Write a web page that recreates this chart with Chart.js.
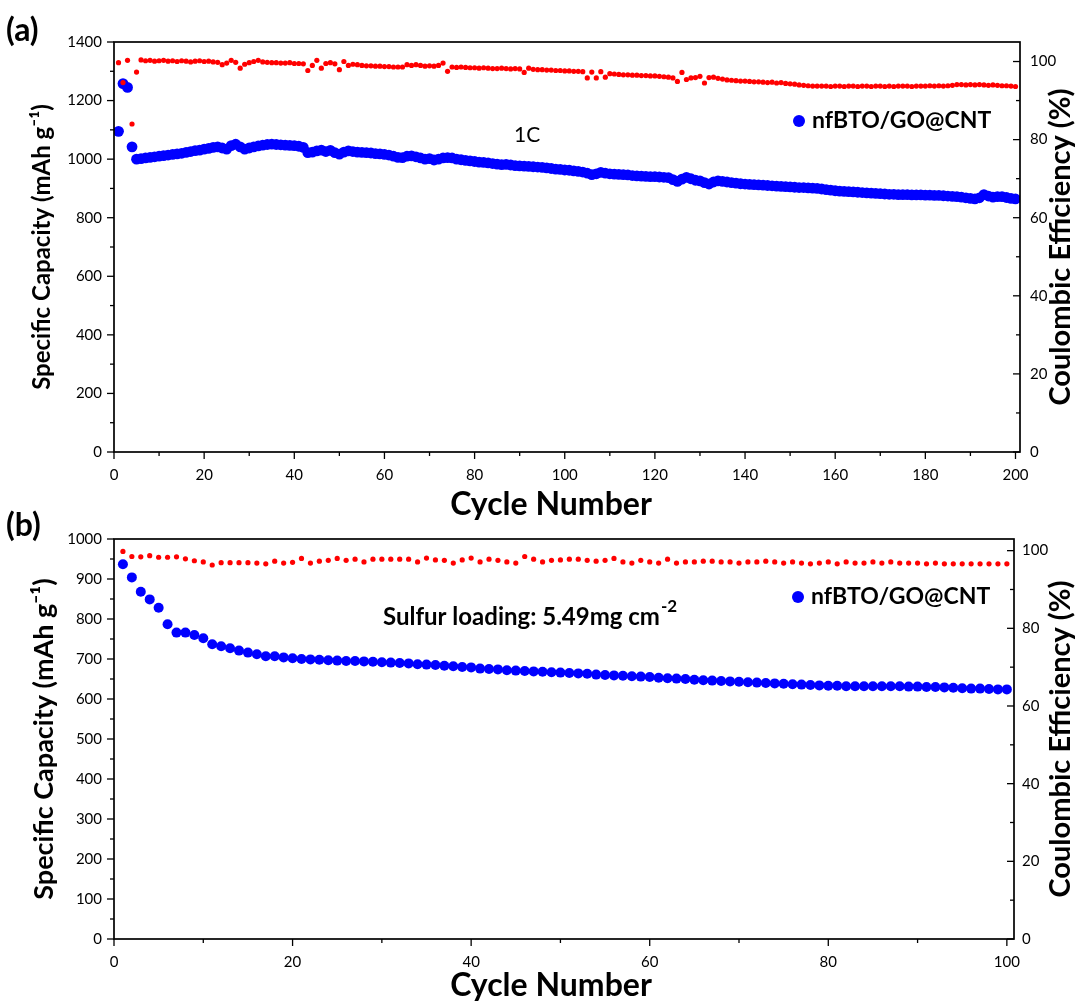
<!DOCTYPE html>
<html>
<head>
<meta charset="utf-8">
<script src="https://cdn.jsdelivr.net/npm/chart.js@4.4.1/dist/chart.umd.min.js"></script>
<style>
  html, body { margin: 0; padding: 0; background: #fff; overflow: hidden; }
  #wrap { position: relative; width: 1081px; height: 1003px; overflow: hidden; }
  canvas { position: absolute; left: 0; }
</style>
</head>
<body>
<div id="wrap">
  <canvas id="chartA" width="1081" height="526" style="top:0"></canvas>
  <canvas id="chartB" width="1081" height="513" style="top:490px"></canvas>
</div>
<script>
// ---- panel (a): 1C, 200 cycles ----
const capacityA = [
  1095, 1258, 1245, 1042, 1000, 1002, 1004, 1006, 1008, 1010,
  1012, 1014, 1016, 1018, 1020, 1023, 1026, 1029, 1031, 1034,
  1037, 1040, 1042, 1038, 1034, 1046, 1051, 1042, 1034, 1038,
  1042, 1045, 1048, 1050, 1051, 1050, 1049, 1048, 1047, 1046,
  1044, 1040, 1022, 1024, 1028, 1031, 1026, 1030, 1022, 1017,
  1024, 1028, 1026, 1024, 1023, 1022, 1021, 1019, 1018, 1016,
  1014, 1010, 1006, 1005, 1010, 1011, 1008, 1004, 1000, 1002,
  997, 1000, 1004, 1005, 1004, 1000, 998, 996, 994, 992,
  990, 989, 987, 985, 983, 981, 982, 980, 978, 977,
  976, 975, 974, 973, 972, 970, 968, 966, 965, 963,
  962, 960, 958, 956, 952, 947, 950, 955, 952, 950,
  949, 948, 947, 946, 944, 943, 942, 941, 940, 940,
  939, 938, 937, 930, 924, 932, 938, 933, 928, 926,
  920, 915, 922, 926, 924, 922, 920, 918, 916, 915,
  914, 913, 912, 911, 910, 909, 908, 907, 906, 905,
  904, 903, 903, 902, 901, 900, 898, 896, 894, 892,
  891, 890, 889, 888, 887, 886, 885, 884, 883, 882,
  881, 880, 880, 879, 879, 879, 878, 878, 878, 877,
  877, 876, 876, 875, 874, 873, 872, 870, 868, 866,
  864, 868, 879, 874, 870, 872, 872, 869, 866, 864
];
const efficiencyA = [
  99.7, 94.6, 100.3, 84.0, 97.3, 100.4, 100.2, 100.3, 100.1, 100.2,
  100.3, 100.1, 100.2, 100.0, 100.2, 100.1, 99.9, 100.1, 100.2, 100.0,
  100.1, 99.9, 99.8, 99.2, 99.6, 100.3, 99.8, 98.3, 99.3, 99.7,
  100.0, 100.3, 99.9, 99.8, 99.7, 99.7, 99.6, 99.6, 99.7, 99.5,
  99.5, 99.4, 97.7, 99.0, 100.3, 98.3, 99.5, 99.7, 99.4, 97.9,
  100.0, 99.0, 99.3, 99.2, 99.0, 98.9, 98.9, 98.8, 98.8, 98.7,
  98.7, 98.6, 98.6, 98.6, 99.2, 99.0, 99.2, 99.0, 98.8, 98.9,
  98.8, 99.0, 99.6, 97.5, 98.6, 98.5, 98.6, 98.5, 98.4, 98.4,
  98.3, 98.4, 98.3, 98.2, 98.2, 98.3, 98.2, 98.1, 98.2, 98.1,
  97.2, 98.3, 98.0, 97.9, 97.9, 97.8, 97.8, 97.7, 97.7, 97.6,
  97.6, 97.5, 97.5, 97.4, 95.8, 97.3, 95.8, 97.4, 96.0, 96.9,
  96.8, 96.7, 96.6, 96.6, 96.5, 96.5, 96.4, 96.4, 96.3, 96.3,
  96.2, 96.1, 96.0, 95.8, 94.9, 97.2, 95.4, 95.8, 95.9, 96.2,
  94.5, 95.9, 96.0, 95.7, 95.5, 95.3, 95.2, 95.1, 95.0, 95.0,
  94.9, 94.8, 94.8, 94.7, 94.6, 94.7, 94.5, 94.6, 94.4, 94.3,
  94.2, 94.0, 93.9, 93.8, 93.7, 93.7, 93.7, 93.7, 93.6, 93.7,
  93.7, 93.6, 93.7, 93.7, 93.6, 93.7, 93.7, 93.6, 93.7, 93.7,
  93.6, 93.7, 93.6, 93.7, 93.7, 93.7, 93.6, 93.7, 93.7, 93.7,
  93.8, 93.7, 93.8, 93.7, 93.8, 93.9, 94.1, 94.1, 94.0, 94.1,
  94.0, 94.1, 94.0, 93.9, 94.0, 93.9, 93.8, 93.8, 93.7, 93.6
];

// ---- panel (b): 5.49 mg cm-2, 100 cycles ----
const capacityB = [
  937, 904, 868, 849, 828, 787, 766, 766, 760, 752,
  737, 732, 727, 721, 716, 712, 707, 707, 704, 702,
  700, 699, 698, 697, 696, 695, 695, 694, 693, 692,
  691, 690, 689, 687, 686, 685, 683, 682, 680, 679,
  676, 675, 674, 672, 671, 670, 669, 668, 667, 666,
  665, 664, 663, 661, 660, 659, 658, 657, 656, 655,
  653, 652, 651, 650, 648, 647, 646, 645, 644, 643,
  642, 641, 640, 639, 638, 637, 636, 635, 634, 633,
  633, 632, 632, 632, 632, 632, 632, 632, 631, 631,
  630, 630, 629, 628, 627, 626, 626, 625, 624, 624
];
const efficiencyB = [
  99.8, 98.5, 98.4, 98.7, 98.3, 98.3, 98.4, 97.9, 97.4, 97.1,
  96.3, 96.9, 96.9, 96.9, 96.9, 96.8, 96.6, 97.3, 96.8, 97.0,
  98.0, 96.8, 97.3, 97.5, 98.0, 97.5, 97.8, 97.1, 97.8, 97.8,
  97.8, 97.8, 97.8, 97.1, 98.1, 97.6, 97.5, 96.8, 97.6, 98.1,
  97.1, 97.8, 97.5, 97.1, 96.8, 98.5, 97.8, 97.1, 97.5, 97.6,
  97.8, 97.8, 97.5, 97.3, 97.5, 98.0, 97.1, 96.8, 97.5, 97.1,
  96.8, 97.8, 96.8, 97.1, 97.1, 97.3, 97.3, 97.1, 97.1, 96.8,
  97.1, 97.1, 97.3, 97.1, 96.8, 97.1, 96.8, 96.6, 96.8, 97.1,
  96.6, 97.1, 96.8, 96.8, 97.1, 96.8, 97.1, 96.8, 96.8, 96.8,
  96.6, 96.8, 96.6, 96.6, 96.6, 96.6, 96.6, 96.6, 96.6, 96.6
];

// tick labels
const xTicksA = [0, 20, 40, 60, 80, 100, 120, 140, 160, 180, 200];
const capTicksA = [0, 200, 400, 600, 800, 1000, 1200, 1400];
const xTicksB = [0, 20, 40, 60, 80, 100];
const capTicksB = [0, 100, 200, 300, 400, 500, 600, 700, 800, 900, 1000];
const effTicks = [0, 20, 40, 60, 80, 100];

const seriesName = 'nfBTO/GO@CNT';
const BLUE = '#0000ff';
const RED = '#ff0000';
const FONT = "Lato, 'Open Sans', sans-serif";

Chart.defaults.font.family = FONT;
Chart.defaults.color = '#000';

const toPoints = arr => arr.map((v, i) => ({ x: i + 1, y: v }));

// frame, minor/major tick marks, axis titles, legend and text notes
const framePlugin = {
  id: 'frame',
  afterDraw(chart, args, o) {
    const { ctx, chartArea: a, scales } = chart;
    ctx.save();
    ctx.strokeStyle = '#000';
    ctx.lineWidth = 1.7;
    ctx.strokeRect(a.left, a.top, a.right - a.left, a.bottom - a.top);

    ctx.lineWidth = 1.3;
    const marks = (scale, ticks, dir) => {
      const vals = [];
      for (let i = 0; i < ticks.length; i++) {
        vals.push([ticks[i], 7]);
        if (i < ticks.length - 1) vals.push([(ticks[i] + ticks[i + 1]) / 2, 4]);
      }
      vals.forEach(([v, len]) => {
        const p = scale.getPixelForValue(v);
        ctx.beginPath();
        if (dir === 'bottom') { ctx.moveTo(p, a.bottom); ctx.lineTo(p, a.bottom + len); }
        if (dir === 'left') { ctx.moveTo(a.left, p); ctx.lineTo(a.left - len, p); }
        if (dir === 'right') { ctx.moveTo(a.right, p); ctx.lineTo(a.right - len, p); }
        ctx.stroke();
      });
    };
    marks(scales.x, o.xTicks, 'bottom');
    marks(scales.y, o.yTicks, 'left');
    marks(scales.y1, o.y1Ticks, 'right');

    ctx.fillStyle = '#000';
    ctx.textBaseline = 'middle';

    // x title
    ctx.textAlign = 'center';
    ctx.font = 'bold 32px ' + FONT;
    ctx.fillText('Cycle Number', o.xTitle.x, o.xTitle.y);

    // right axis title, reading bottom to top
    ctx.save();
    ctx.translate(o.rightTitle.x, (a.top + a.bottom) / 2);
    ctx.rotate(-Math.PI / 2);
    ctx.font = 'bold ' + o.rightTitle.size + 'px ' + FONT;
    ctx.fillText(o.rightTitle.text, 0, 0);
    ctx.restore();
    ctx.textAlign = 'left';

    // legend entry
    const ds = chart.data.datasets[1];
    ctx.fillStyle = ds.backgroundColor;
    ctx.beginPath();
    ctx.arc(o.legend.x, o.legend.y, 6, 0, Math.PI * 2);
    ctx.fill();
    ctx.fillStyle = '#000';
    ctx.font = 'bold 23px ' + FONT;
    ctx.fillText(ds.label, o.legend.x + 13, o.legend.y);

    // panel letter
    ctx.font = 'bold 32px ' + FONT;
    ctx.fillText(o.panel.text, o.panel.x, o.panel.y);

    // note
    const n = o.note;
    ctx.font = n.font;
    ctx.fillText(n.text, n.x, n.y);
    if (n.sup) {
      const w = ctx.measureText(n.text).width;
      ctx.font = 'bold 17px ' + FONT;
      ctx.fillText(n.sup, n.x + w + 1, n.y - 10);
    }
    ctx.restore();
  }
};

function fixTicks(arr) {
  return scale => { scale.ticks = arr.map(v => ({ value: v })); };
}

function makeChart(id, cfg) {
  const capTitle = 'Specific Capacity (mAh g\u207B\u00B9)';
  return new Chart(document.getElementById(id), {
    type: 'scatter',
    data: {
      datasets: [
        {
          label: 'Coulombic Efficiency',
          data: toPoints(cfg.eff),
          backgroundColor: RED,
          borderWidth: 0,
          pointRadius: 2.6,
          yAxisID: 'y1',
        },
        {
          label: seriesName,
          data: toPoints(cfg.cap),
          backgroundColor: BLUE,
          borderWidth: 0,
          pointRadius: cfg.capRadius,
          yAxisID: 'y',
        }
      ]
    },
    options: {
      responsive: false,
      animation: false,
      layout: { padding: { left: 24, right: 2, top: cfg.top, bottom: 0 } },
      plugins: {
        legend: { display: false },
        tooltip: { enabled: false },
        frame: {
          xTicks: cfg.xTicks, yTicks: cfg.capTicks, y1Ticks: effTicks,
          legend: cfg.legend, panel: cfg.panel, note: cfg.note, xTitle: cfg.xTitle,
          rightTitle: { text: 'Coulombic Efficiency (%)', x: 1061, size: 29 }
        }
      },
      scales: {
        x: {
          type: 'linear',
          min: 0, max: cfg.xMax,
          afterBuildTicks: fixTicks(cfg.xTicks),
          afterFit: s => { s.height = cfg.xHeight; },
          grid: { display: false, drawTicks: false },
          border: { display: false },
          ticks: { padding: 14, font: { size: 15 }, callback: v => String(v) },
          title: { display: false }
        },
        y: {
          position: 'left',
          min: 0, max: cfg.capMax,
          afterBuildTicks: fixTicks(cfg.capTicks),
          afterFit: s => { s.width = 114 - 24; },
          grid: { display: false, drawTicks: false },
          border: { display: false },
          ticks: { padding: 12, font: { size: 15 }, callback: v => String(v) },
          title: { display: true, text: capTitle, font: { size: cfg.capTitleSize, weight: 'bold' }, padding: { top: 4, bottom: 0 } }
        },
        y1: {
          position: 'right',
          min: 0, max: cfg.effMax,
          afterBuildTicks: fixTicks(effTicks),
          afterFit: s => { s.width = 1081 - 2 - cfg.right; },
          grid: { display: false, drawTicks: false },
          border: { display: false },
          ticks: { padding: cfg.rightPad, font: { size: 15 }, callback: v => String(v) },
          title: { display: false }
        }
      }
    },
    plugins: [framePlugin]
  });
}

makeChart('chartA', {
  cap: capacityA, eff: efficiencyA, capRadius: 5.4,
  xTicks: xTicksA, capTicks: capTicksA,
  xMax: 201, capMax: 1400, effMax: 105,
  top: 42, right: 1020, xHeight: 526 - 452, rightPad: 10, capTitleSize: 24,
  xTitle: { x: 551, y: 505 },
  legend: { x: 799, y: 121 },
  panel: { text: '(a)', x: 6, y: 31 },
  note: { text: '1C', x: 514, y: 135, font: '21px ' + FONT }
});

makeChart('chartB', {
  cap: capacityB, eff: efficiencyB, capRadius: 5,
  xTicks: xTicksB, capTicks: capTicksB,
  xMax: 100.8, capMax: 1000, effMax: 103,
  top: 49, right: 1014, xHeight: 513 - 449, rightPad: 8, capTitleSize: 27,
  xTitle: { x: 551, y: 496 },
  legend: { x: 798, y: 107 },
  panel: { text: '(b)', x: 6, y: 36 },
  note: { text: 'Sulfur loading: 5.49mg cm', x: 383, y: 127, font: 'bold 24px ' + FONT, sup: '-2' }
});
</script>
</body>
</html>
